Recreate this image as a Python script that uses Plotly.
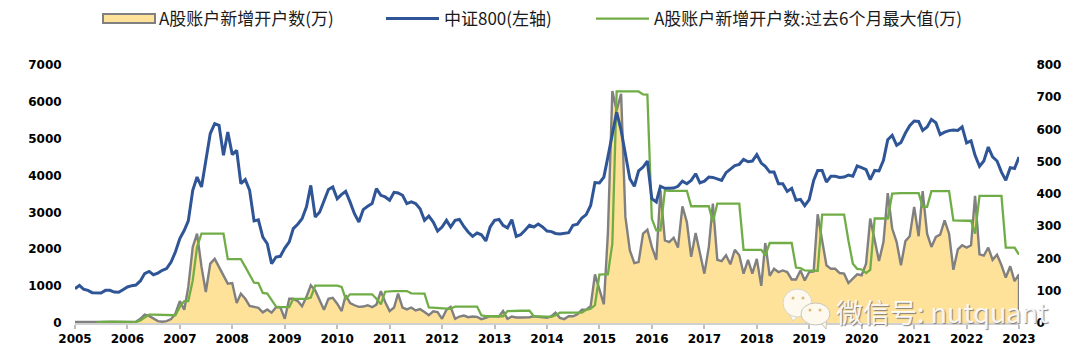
import pandas as pd
import plotly.graph_objects as go

months = pd.date_range("2005-01-01", "2023-01-01", freq="MS")

csi800 = [
 930,1020,920,886,823,823,814,886,886,840,832,904,
 977,1013,1031,1140,1340,1400,1310,1355,1430,1475,1655,1925,
 2290,2515,2770,3600,3960,3690,4410,5140,5410,5365,4550,5180,
 4570,4685,3780,3890,3600,2770,2800,2330,2150,1610,1790,1810,
 2035,2200,2560,2680,2830,3150,3735,2875,3010,3330,3620,3690,
 3370,3490,3570,3280,2965,2740,3075,3165,3240,3645,3465,3420,
 3330,3545,3530,3465,3240,3285,3240,3100,2785,2900,2740,2495,
 2605,2785,2605,2785,2810,2620,2470,2350,2440,2395,2225,2605,
 2785,2810,2650,2580,2805,2350,2395,2515,2650,2605,2685,2605,
 2495,2480,2430,2415,2425,2450,2650,2680,2850,2940,3190,3810,
 3800,3960,4500,5180,5725,5230,4550,3915,3710,4125,4230,4395,
 3375,3285,3710,3655,3655,3660,3710,3850,3780,3870,4050,3800,
 3850,3960,3950,3915,3870,4080,4170,4270,4305,4440,4375,4395,
 4570,4340,4250,4095,4095,3780,3780,3570,3655,3330,3355,3185,
 3345,3870,4140,4140,3825,3980,3980,3950,3960,4015,3980,4260,
 4215,4160,3890,4140,4125,4415,4975,5090,4820,4900,5155,5355,
 5480,5470,5225,5320,5525,5435,5110,5180,5220,5235,5225,5320,
 4885,4940,4550,4250,4395,4775,4505,4395,4095,3870,4215,4190,
 4505]

new_accounts = [
 3,3,4,3,3,3,3,3,2,2,2,2,
 3,3,4,13,26,22,13,6,4,6,12,29,
 68,41,112,236,277,174,96,184,199,174,148,122,
 124,62,91,75,53,50,47,33,42,32,49,49,
 13,75,75,68,52,81,117,101,70,41,75,78,
 60,37,86,62,55,50,51,55,49,57,99,65,
 37,48,91,48,42,48,39,43,34,24,36,34,
 13,41,50,13,20,23,18,20,19,12,16,21,
 21,20,37,13,20,17,17,17,18,21,19,18,
 16,21,32,16,12,21,21,27,41,41,52,151,
 106,58,277,719,659,711,329,225,186,189,277,289,
 236,196,411,256,251,264,234,362,313,205,279,215,
 153,236,370,196,192,210,182,227,210,153,196,153,
 199,115,248,146,168,158,163,158,135,135,163,132,
 158,160,337,256,179,168,168,155,153,124,137,151,
 148,184,324,251,192,251,403,293,251,179,254,269,
 360,269,409,277,236,267,274,318,277,165,228,241,
 234,241,394,213,209,234,196,212,179,141,176,130,
 151]

max_6m = [
 None,None,None,None,None,3,4,4,4,4,4,3,
 3,3,3,8,16,26,26,26,26,26,26,24,
 50,68,68,132,236,277,277,277,277,277,277,198,
 198,198,198,174,148,125,124,93,91,73,51,49,
 49,49,75,75,75,75,79,116,116,116,116,116,
 116,112,75,89,89,89,89,89,89,75,58,97,
 99,99,99,99,99,92,91,91,91,48,47,46,
 44,44,44,51,51,51,51,51,51,24,21,21,
 21,21,21,37,38,38,38,38,38,21,20,19,
 19,19,24,32,32,32,32,32,32,41,44,55,
 150,151,151,246,718,718,718,718,718,718,709,708,
 323,287,287,411,410,410,410,410,410,362,362,362,
 362,362,313,370,370,370,370,370,370,227,227,227,
 227,227,210,248,248,248,248,248,248,172,170,163,
 162,162,162,336,336,336,336,336,336,256,184,168,
 166,155,165,324,324,324,324,401,403,403,403,403,
 403,403,360,360,409,409,409,409,409,318,317,317,
 317,317,277,394,394,394,394,394,394,234,234,234,
 212]

left_ticks = [0,1000,2000,3000,4000,5000,6000,7000]
right_ticks = [0,100,200,300,400,500,600,700,800]
name_area = "A股账户新增开户数(万)"
name_csi = "中证800(左轴)"
name_max = "A股账户新增开户数:过去6个月最大值(万)"
watermark = "微信号: nutquant"

def px(x): return (x - 75) / 944
def py(y): return (323 - y) / 258

fig = go.Figure()
fig.add_trace(go.Scatter(x=list(months)+[months[-1]], y=new_accounts+[0], name=name_area,
    yaxis="y", showlegend=False, mode="lines", fill="tozeroy", fillcolor="#FFE29A",
    line=dict(color="#808080", width=2.4)))
fig.add_trace(go.Scatter(x=[None], y=[None], name=name_area, yaxis="y", legend="legend",
    mode="lines", line=dict(color="rgba(0,0,0,0)", width=2)))
fig.add_trace(go.Scatter(x=months, y=max_6m, name=name_max,
    yaxis="y", legend="legend3", mode="lines", line=dict(color="#70AD47", width=2.3)))
fig.add_trace(go.Scatter(x=months, y=csi800, name=name_csi,
    yaxis="y2", legend="legend2", mode="lines", line=dict(color="#2F5597", width=3)))

tickfont = dict(family="DejaVu Sans", size=12, color="#000000", weight="bold")
legfont = dict(family="Noto Sans CJK SC", size=17, color="#1a1a1a")
def leg(x):
    return dict(x=x/1080, y=1-1/361, xref="container", yref="container", xanchor="left", yanchor="top",
                orientation="h", font=legfont, itemwidth=53, bgcolor="rgba(0,0,0,0)",
                itemclick=False, itemdoubleclick=False, tracegroupgap=0)

def bubble(x0, y0, x1, y1, edge):
    return dict(type="circle", xref="paper", yref="paper", x0=px(x0), x1=px(x1),
                y0=py(y1), y1=py(y0), fillcolor="#FDF9EE", line=dict(color=edge, width=1))
def tail(pts, edge):
    d = "M" + " L".join(f"{px(a):.5f},{py(b):.5f}" for a, b in pts) + " Z"
    return dict(type="path", xref="paper", yref="paper", path=d, fillcolor="#FDF9EE", line=dict(color=edge, width=1))
def dot(x, y):
    return dict(type="circle", xref="paper", yref="paper", x0=px(x-1.5), x1=px(x+1.5),
                y0=py(y+1.5), y1=py(y-1.5), fillcolor="#DDBB77", line=dict(width=0))

fig.update_layout(
    width=1080, height=361, margin=dict(l=75, r=61, t=65, b=38, autoexpand=False),
    paper_bgcolor="white", plot_bgcolor="white", showlegend=True,
    legend=leg(96), legend2=leg(381), legend3=leg(591),
    xaxis=dict(range=[months[0], months[-1]], type="date", dtick="M12", tick0="2005-01-01",
               tickformat="%Y", ticks="outside", ticklen=4, tickcolor="#BFBFBF", tickwidth=2,
               showline=True, linecolor="#D0D0D0", linewidth=2, showgrid=False, zeroline=False,
               tickfont=tickfont),
    yaxis=dict(range=[0,800], tickvals=right_ticks, side="right", showgrid=False, zeroline=False,
               ticks="outside", ticklen=14, tickcolor="rgba(0,0,0,0)", tickfont=tickfont),
    yaxis2=dict(range=[0,7000], tickvals=left_ticks, side="left", overlaying="y", showgrid=False,
                zeroline=False, ticks="outside", ticklen=10, tickcolor="rgba(0,0,0,0)", tickfont=tickfont),
    shapes=[
        dict(type="rect", xref="paper", yref="paper", x0=px(103), x1=px(155), y0=py(23), y1=py(14),
             fillcolor="#FFE29A", line=dict(color="#808080", width=2)),
        tail([(787,310),(793,321),(800,314)], "#D9D4C6"),
        bubble(783, 289, 812, 317, "#D9D4C6"),
        tail([(820,322),(826,329),(827,316)], "#C9C5B8"),
        bubble(801, 303, 830, 325, "#C9C5B8"),
        dot(793,298), dot(803,298), dot(810,310), dot(820,310),
    ],
    annotations=[dict(text=watermark, xref="paper", yref="paper", x=px(834), y=py(311),
                      xanchor="left", yanchor="middle", showarrow=False,
                      font=dict(family="Noto Sans CJK SC", size=27, color="rgba(255,255,255,0.92)",
                                shadow="1px 1px 1px #777777"))],
)
fig.write_html("out.html", config={"displayModeBar": False}, post_script="document.body.style.margin='0';")
